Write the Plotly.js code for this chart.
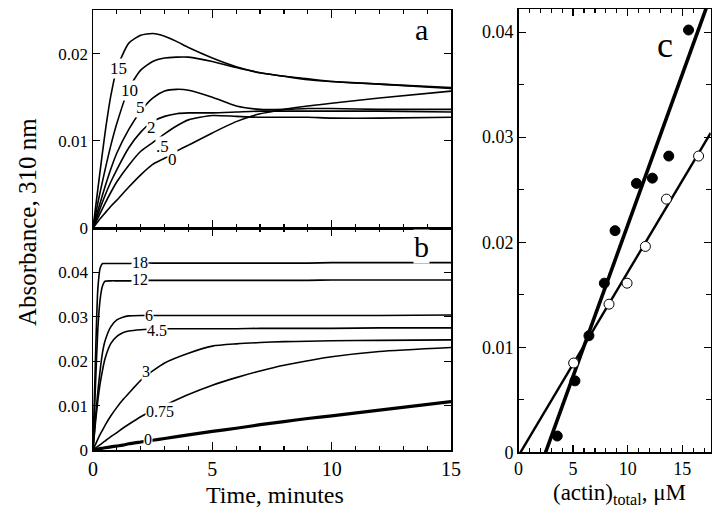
<!DOCTYPE html>
<html><head><meta charset="utf-8">
<script src="https://cdn.plot.ly/plotly-3.0.1.min.js"></script>
<style>html,body{margin:0;padding:0;background:#fff}#chart{width:720px;height:514px}</style>
</head><body><div id="chart"></div>
<script>
// Panel a: absorbance vs time, labelled by concentration
var aTime = [0,0.25,0.5,0.75,1,1.5,2,2.5,3,3.5,4,5,6,7,8,9,10,12,15];
var aLabels = ["15","10","5","2",".5","0"];
var a15 = [0,0.0055,0.0108,0.0152,0.0183,0.0212,0.0221,0.0223,0.0220,0.0214,0.0207,0.0195,0.0185,0.0178,0.0174,0.0170,0.0168,0.0165,0.0161];
var a10 = [0,0.0035,0.0066,0.0095,0.0120,0.0160,0.0181,0.0191,0.0195,0.0196,0.0196,0.0191,0.0184,0.0178,0.0174,0.0171,0.0168,0.0165,0.0160];
var a5  = [0,0.0024,0.0047,0.0068,0.0086,0.0113,0.0134,0.0149,0.0157,0.0159,0.0158,0.0150,0.0140,0.0136,0.0136,0.0137,0.0137,0.0136,0.0136];
var a2  = [0,0.0019,0.0037,0.0053,0.0067,0.0092,0.0110,0.0122,0.0128,0.0131,0.0132,0.0132,0.0133,0.0134,0.0134,0.0134,0.0134,0.0134,0.0133];
var a05 = [0,0.0014,0.0028,0.0041,0.0053,0.0072,0.0088,0.0098,0.0108,0.0117,0.0124,0.0129,0.0128,0.0127,0.0127,0.0127,0.0126,0.0126,0.0127];
var a0  = [0,0.0009,0.0017,0.0025,0.0032,0.0047,0.0061,0.0073,0.0080,0.0088,0.0095,0.0109,0.0122,0.0131,0.0136,0.0140,0.0143,0.0149,0.0157];
var aLabelX = [1.05,1.55,2.01,2.47,2.93,3.31];
var aLabelY = [0.0183,0.01575,0.0138,0.0115,0.0093,0.0078];

// Panel b
var bTime = [0,0.1,0.2,0.3,0.4,0.5,0.75,1,1.25,1.5,2,2.5,3,4,5,6,7,8,9,10,12,15];
var bLabels = ["18","12","6","4.5","3","0.75","0"];
var b18  = [0,0.020,0.036,0.041,0.042,0.042,0.042,0.042,0.042,0.042,0.0421,0.0421,0.0421,0.0421,0.0421,0.0421,0.0421,0.0421,0.0421,0.0422,0.0422,0.0422];
var b12  = [0,0.014,0.027,0.034,0.037,0.038,0.0381,0.0381,0.0381,0.0381,0.0382,0.0382,0.0382,0.0382,0.0382,0.0382,0.0382,0.0382,0.0382,0.0383,0.0383,0.0383];
var b6   = [0,0.007,0.013,0.018,0.022,0.0245,0.0278,0.0293,0.0299,0.0302,0.0303,0.0303,0.0303,0.0303,0.0303,0.0303,0.0303,0.0303,0.0303,0.0303,0.0303,0.0304];
var b45  = [0,0.006,0.011,0.015,0.018,0.0205,0.0240,0.0256,0.0264,0.0268,0.0271,0.0272,0.0273,0.0273,0.0273,0.0273,0.0274,0.0274,0.0274,0.0274,0.0275,0.0275];
var b3   = [0,0.0012,0.0024,0.0035,0.0045,0.0055,0.0077,0.0096,0.0113,0.0128,0.0157,0.0178,0.0196,0.0218,0.0234,0.0239,0.0242,0.0244,0.0245,0.0246,0.0247,0.0248];
var b075 = [0,0.0004,0.0008,0.0012,0.0016,0.0020,0.0030,0.0039,0.0049,0.0058,0.0075,0.0089,0.0101,0.0125,0.0146,0.0163,0.0178,0.0191,0.0201,0.0210,0.0222,0.0231];
var b0   = [0,0.0001,0.0002,0.0003,0.0004,0.0005,0.0007,0.0009,0.0011,0.0014,0.0018,0.0022,0.0026,0.0034,0.0042,0.0049,0.0057,0.0064,0.0071,0.0077,0.0090,0.0109];
var bLabelX = [1.96,1.96,2.33,2.68,2.24,2.8,2.3];
var bLabelY = [0.0422,0.0383,0.0303,0.0270,0.0176,0.0087,0.0023];

// Panel c
var filledX = [3.55,5.17,6.45,7.86,8.84,10.8,12.26,13.76,15.57];
var filledY = [0.00155,0.0068,0.0111,0.0161,0.0211,0.0256,0.0261,0.0282,0.0402];
var openX = [5.05,8.29,9.94,11.62,13.55,16.49];
var openY = [0.0085,0.0141,0.0161,0.0196,0.0241,0.0282];
var fitFilledX = [2.48,17.6];
var fitFilledY = [0,0.04346];
var fitOpenX = [0.18,17.6];
var fitOpenY = [0,0.0304];

var FONT = "Liberation Serif";
var traces = [];
[a15,a10,a5,a2,a05,a0].forEach(function(s){
  traces.push({x:aTime,y:s,type:'scatter',mode:'lines',line:{color:'#000',width:1.6,shape:'spline',smoothing:0.6},xaxis:'x',yaxis:'y',hoverinfo:'skip'});
});
[b18,b12,b6,b45,b3,b075,b0].forEach(function(s,i){
  traces.push({x:bTime,y:s,type:'scatter',mode:'lines',line:{color:'#000',width:(i===6?3.2:1.6),shape:'spline',smoothing:0.6},xaxis:'x2',yaxis:'y2',hoverinfo:'skip'});
});
traces.push({x:fitFilledX,y:fitFilledY,type:'scatter',mode:'lines',line:{color:'#000',width:3.6},xaxis:'x3',yaxis:'y3'});
traces.push({x:fitOpenX,y:fitOpenY,type:'scatter',mode:'lines',line:{color:'#000',width:2.4},xaxis:'x3',yaxis:'y3'});
traces.push({x:filledX,y:filledY,type:'scatter',mode:'markers',marker:{color:'#000',size:10,line:{color:'#000',width:1}},xaxis:'x3',yaxis:'y3',cliponaxis:false});
traces.push({x:openX,y:openY,type:'scatter',mode:'markers',marker:{color:'#fff',size:10,line:{color:'#000',width:1}},xaxis:'x3',yaxis:'y3',cliponaxis:false});

var W=720,H=514;
function dx(a,b){return [a/W,b/W];}
function dy(top,bot){return [1-bot/H,1-top/H];}
function ax(extra){
  var base = {showline:true,linecolor:'#000',linewidth:1.5,mirror:'ticks',ticks:'inside',tickcolor:'#000',tickwidth:1.2,showgrid:false,zeroline:false,
    tickfont:{family:FONT,size:17,color:'#000'}};
  return Object.assign(base,extra);
}
function note(px,py,text,size,extra){
  return Object.assign({x:px/W,y:1-py/H,xref:'paper',yref:'paper',xanchor:'center',yanchor:'middle',text:text,showarrow:false,font:{family:FONT,size:size,color:'#000'}},extra||{});
}

var annotations = [];
aLabels.forEach(function(t,i){annotations.push({x:aLabelX[i],y:aLabelY[i],xref:'x',yref:'y',xanchor:'center',yanchor:'middle',text:t,showarrow:false,font:{family:FONT,size:17,color:'#000'},bgcolor:'#fff',borderpad:0});});
bLabels.forEach(function(t,i){annotations.push({x:bLabelX[i],y:bLabelY[i],xref:'x2',yref:'y2',xanchor:'center',yanchor:'middle',text:t,showarrow:false,font:{family:FONT,size:16,color:'#000'},bgcolor:'#fff',borderpad:0});});
annotations.push(note(421,29,'a',30));
annotations.push(note(421.5,246,'b',30,{bgcolor:'#fff',borderpad:0}));
annotations.push(note(664.5,45,'c',36));
annotations.push(note(27,222,'Absorbance, 310 nm',25,{textangle:-90}));
annotations.push(note(275,495,'Time, minutes',24));
annotations.push(note(619,494,'(actin)<sub>total</sub>, μM',23));

var layout = {
  width:W,height:H,margin:{l:0,r:0,t:0,b:0},paper_bgcolor:'#fff',plot_bgcolor:'#fff',showlegend:false,
  font:{family:FONT,color:'#000'},
  xaxis: ax({domain:dx(93,451),range:[0,15],anchor:'y',tickvals:[0,5,10,15],showticklabels:false,ticklen:8,minor:{dtick:1,ticklen:4,ticks:'inside',tickcolor:'#000'}}),
  yaxis: ax({domain:dy(10,228),range:[0,0.025],anchor:'x',tickvals:[0,0.01,0.02],ticktext:['0','0.01','0.02'],ticklen:7}),
  xaxis2: ax({domain:dx(93,451),range:[0,15],anchor:'y2',tickvals:[0,5,10,15],ticktext:['0','5','10','15'],ticklen:8,tickfont:{family:FONT,size:20,color:'#000'},minor:{dtick:1,ticklen:4,ticks:'inside',tickcolor:'#000'}}),
  yaxis2: ax({domain:dy(228,450),range:[0,0.05],anchor:'x2',tickvals:[0,0.01,0.02,0.03,0.04],ticktext:['0','0.01','0.02','0.03','0.04'],ticklen:7}),
  xaxis3: ax({domain:dx(518.5,710.7),range:[0,17.6],anchor:'y3',tickvals:[0,5,10,15],ticktext:['0','5','10','15'],ticklen:7,tickfont:{family:FONT,size:18,color:'#000'},minor:{dtick:1,ticklen:4,ticks:'inside',tickcolor:'#000'}}),
  yaxis3: ax({domain:dy(9,452.3),range:[0,0.0422],anchor:'x3',tickvals:[0,0.01,0.02,0.03,0.04],ticktext:['0','0.01','0.02','0.03','0.04'],ticklen:7,tickfont:{family:FONT,size:18,color:'#000'},minor:{dtick:0.005,ticklen:5,ticks:'inside',tickcolor:'#000'}}),
  annotations:annotations
};
Plotly.newPlot('chart',traces,layout,{displayModeBar:false,staticPlot:true});
</script></body></html>
